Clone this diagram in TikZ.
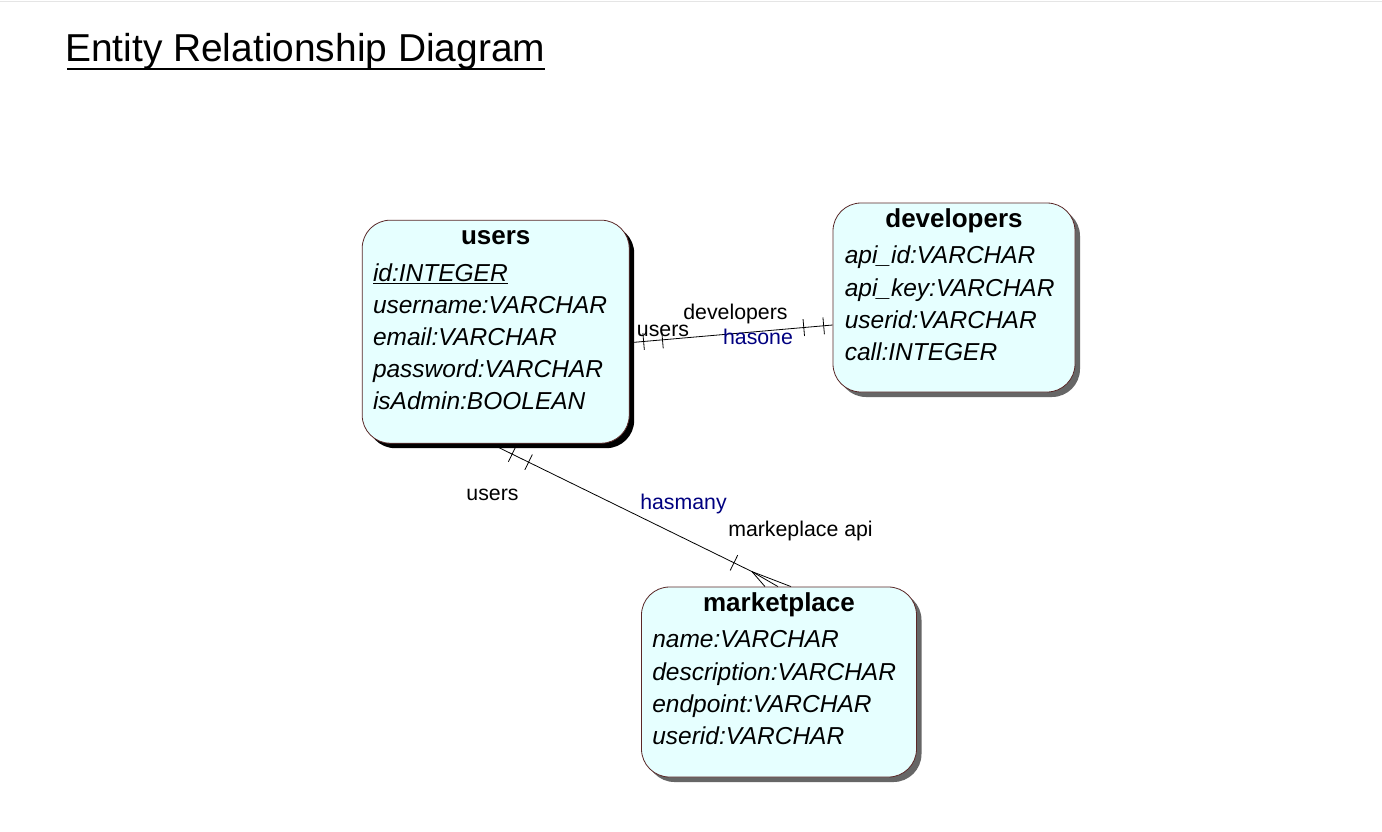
\documentclass[tikz,border=0pt]{standalone}
\usepackage{fontspec}
\setmainfont{Liberation Sans}
\usetikzlibrary{calc,positioning,shadows,backgrounds}
\definecolor{entfill}{RGB}{230,255,255}
\definecolor{entline}{RGB}{90,40,40}
\definecolor{relblue}{RGB}{0,0,128}

\begin{document}
\begin{tikzpicture}[x=1pt, y=-1pt,
    entity/.style={draw=entline, fill=entfill, rounded corners=28pt, line width=0.8pt, inner sep=0pt},
    enttitle/.style={anchor=base, inner sep=0pt, font=\fontsize{26}{30}\selectfont\bfseries},
    entrows/.style={anchor=north west, inner sep=0pt, font=\fontsize{24.5}{32.2}\selectfont\itshape},
    lbl/.style={inner sep=0pt, font=\fontsize{21.3}{24}\selectfont},
    rel/.style={lbl, text=relblue},
    link/.style={line width=0.8pt},
    tick/.style={draw, sloped, minimum height=17pt, minimum width=0pt, inner sep=0pt, line width=0.8pt}]
    \useasboundingbox (0,0) rectangle (1382,831);

    \node[anchor=base west, inner sep=0pt, font=\fontsize{38.9}{44}\selectfont] (title) at (65,61.5) {Entity Relationship Diagram};
    \draw[line width=2.5pt] ([xshift=2pt,yshift=-7.5pt]title.base west) -- ([yshift=-7.5pt]title.base east);

    % entities
    \node[entity, minimum width=267pt, minimum height=223pt,
          drop shadow={shadow xshift=5pt, shadow yshift=-5pt, fill=black, opacity=1}] (users) at (495.7,331.7) {};
    \node[enttitle] (users-title) at ([yshift=-25pt]users.north) {users};
    \node[entrows] (users-rows) at ([xshift=11pt,yshift=-38.5pt]users.north west) {\begin{tabular}{@{}l@{}}
        \underline{id:INTEGER}\\ username:VARCHAR\\ email:VARCHAR\\ password:VARCHAR\\ isAdmin:BOOLEAN
    \end{tabular}};

    \node[entity, minimum width=242pt, minimum height=189pt,
          drop shadow={shadow xshift=5pt, shadow yshift=-5pt, fill=black!60, opacity=1}] (developers) at (954,297.5) {};
    \node[enttitle] (developers-title) at ([yshift=-25pt]developers.north) {developers};
    \node[entrows] (developers-rows) at ([xshift=12pt,yshift=-38.5pt]developers.north west) {\begin{tabular}{@{}l@{}}
        api\_id:VARCHAR\\ api\_key:VARCHAR\\ userid:VARCHAR\\ call:INTEGER
    \end{tabular}};

    \node[entity, minimum width=275pt, minimum height=190pt,
          drop shadow={shadow xshift=5pt, shadow yshift=-5pt, fill=black!60, opacity=1}] (marketplace) at (779,682) {};
    \node[enttitle] (marketplace-title) at ([yshift=-25pt]marketplace.north) {marketplace};
    \node[entrows] (marketplace-rows) at ([xshift=11pt,yshift=-38.5pt]marketplace.north west) {\begin{tabular}{@{}l@{}}
        name:VARCHAR\\ description:VARCHAR\\ endpoint:VARCHAR\\ userid:VARCHAR
    \end{tabular}};

    % relation labels
    \node[lbl] (ud-users) at (663,330.5) {users};
    \node[lbl] (ud-developers) at (735.5,314) {developers};
    \node[rel] (ud-hasone) at (758,336.5) {hasone};
    \node[lbl] (um-users) at (492.5,495) {users};
    \node[rel] (um-hasmany) at (683.5,503.5) {hasmany};
    \node[lbl] (um-market) at (800.5,530.5) {markeplace api};

    \coordinate (ud-a) at ([yshift=-11pt]users.east);
    \coordinate (ud-b) at ([yshift=-27.5pt]developers.west);
    \coordinate (um-a) at ([xshift=-5pt]users.south);
    \coordinate (um-b) at ([xshift=-27pt,yshift=15pt]marketplace.north);

    \begin{scope}[on background layer]
        \fill[white] (0,0) rectangle (1382,831);
        \draw[gray!20, line width=1.5pt] (0,1.5) -- (1382,1.5);
        \draw[link] (ud-a) -- node[tick, pos=0.069] {} node[tick, pos=0.162] {}
            node[tick, pos=0.858] {} node[tick, pos=0.956] {} (ud-b);
        \draw[link] (um-a) -- node[tick, pos=0.082] {} node[tick, pos=0.145] {}
            node[tick, pos=0.931] {} (um-b);
        \foreach \dx in {-14,-1,12}
            \draw[link] (um-b) -- ([xshift=\dx pt]marketplace.north);
    \end{scope}
\end{tikzpicture}
\end{document}
